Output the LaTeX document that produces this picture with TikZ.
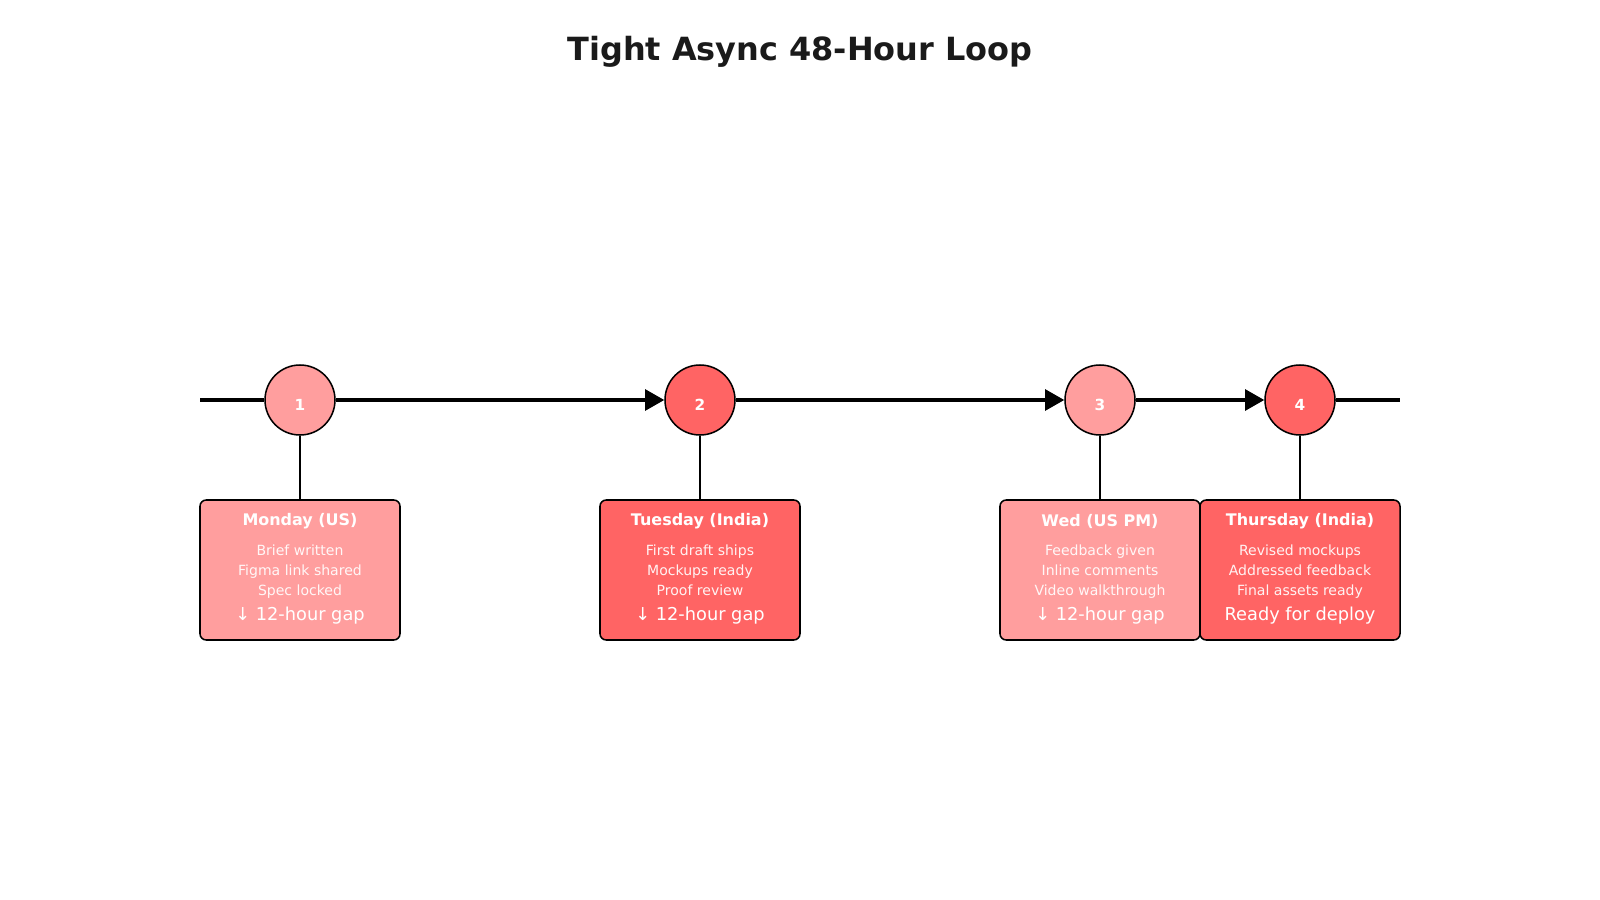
\documentclass[tikz,border=0pt]{standalone}
\usepackage{fontspec}
\setmainfont{DejaVu Sans}
\usetikzlibrary{arrows.meta}
\definecolor{lightred}{HTML}{FF9E9E}
\definecolor{darkred}{HTML}{FF6464}
\definecolor{titlegray}{HTML}{1A1A1A}
\tikzset{
  evt/.style={circle, draw=black, line width=1.1pt, minimum size=50.4pt, inner sep=0pt},
  evtnum/.style={text=white, font=\bfseries\fontsize{11}{13}\selectfont, inner sep=0pt},
  card/.style={draw=black, line width=1.1pt, rounded corners=4.5pt, minimum width=144pt, minimum height=100.8pt, inner sep=0pt},
  cardtitle/.style={text=white, font=\bfseries\fontsize{11.5}{13}\selectfont, inner sep=0pt},
  cardline/.style={text=white, text opacity=0.92, font=\fontsize{10.1}{12}\selectfont, inner sep=0pt, text height=7.7pt, text depth=2.4pt},
  cardgap/.style={text=white, font=\fontsize{12.8}{15}\selectfont, inner sep=0pt},
  spine/.style={line width=2.2pt, draw=black},
  spinearrow/.style={spine, -{Triangle[length=13.7pt,width=15pt]}},
  stem/.style={line width=1.1pt, draw=black},
}
\begin{document}
\begin{tikzpicture}[x=0.72pt, y=-0.72pt]
\useasboundingbox (0,0) rectangle (1600,900);
\fill[white] (0,0) rectangle (1600,900);

\node[text=titlegray, font=\bfseries\fontsize{23}{27}\selectfont] (title) at (800,52) {Tight Async 48-Hour Loop};

% circles
\node[evt, fill=lightred] (c1) at (300,400) {};
\node[evt, fill=darkred]  (c2) at (700,400) {};
\node[evt, fill=lightred] (c3) at (1100,400) {};
\node[evt, fill=darkred]  (c4) at (1300,400) {};
\node[evtnum] (n1) at (300,405) {1};
\node[evtnum] (n2) at (700,405) {2};
\node[evtnum] (n3) at (1100,405) {3};
\node[evtnum] (n4) at (1300,405) {4};

\coordinate (sL) at (200,400);
\coordinate (sR) at (1400,400);
\draw[spine] (sL) -- (c1);
\draw[spinearrow] (c1) -- (c2);
\draw[spinearrow] (c2) -- (c3);
\draw[spinearrow] (c3) -- (c4);
\draw[spine] (c4) -- (sR);

% cards
\node[card, fill=lightred] (b1) at (300,570) {};
\node[card, fill=darkred]  (b2) at (700,570) {};
\node[card, fill=lightred] (b3) at (1100,570) {};
\node[card, fill=darkred]  (b4) at (1300,570) {};

\draw[stem] (c1) -- (b1);
\draw[stem] (c2) -- (b2);
\draw[stem] (c3) -- (b3);
\draw[stem] (c4) -- (b4);

% card texts
\node[cardtitle] (t1) at (300,521.4) {Monday (US)};
\node[cardline] (l1a) at (300,552) {Brief written};
\node[cardline] (l1b) at (300,571.8) {Figma link shared};
\node[cardline] (l1c) at (300,591.6) {Spec locked};
\node[cardgap]  (g1) at (300,615.3) {↓ 12-hour gap};

\node[cardtitle] (t2) at (700,521.4) {Tuesday (India)};
\node[cardline] (l2a) at (700,552) {First draft ships};
\node[cardline] (l2b) at (700,571.8) {Mockups ready};
\node[cardline] (l2c) at (700,591.6) {Proof review};
\node[cardgap]  (g2) at (700,615.3) {↓ 12-hour gap};

\node[cardtitle] (t3) at (1100,521.4) {Wed (US PM)};
\node[cardline] (l3a) at (1100,552) {Feedback given};
\node[cardline] (l3b) at (1100,571.8) {Inline comments};
\node[cardline] (l3c) at (1100,591.6) {Video walkthrough};
\node[cardgap]  (g3) at (1100,615.3) {↓ 12-hour gap};

\node[cardtitle] (t4) at (1300,521.4) {Thursday (India)};
\node[cardline] (l4a) at (1300,552) {Revised mockups};
\node[cardline] (l4b) at (1300,571.8) {Addressed feedback};
\node[cardline] (l4c) at (1300,591.6) {Final assets ready};
\node[cardgap]  (g4) at (1300,615.3) {Ready for deploy};
\end{tikzpicture}
\end{document}
